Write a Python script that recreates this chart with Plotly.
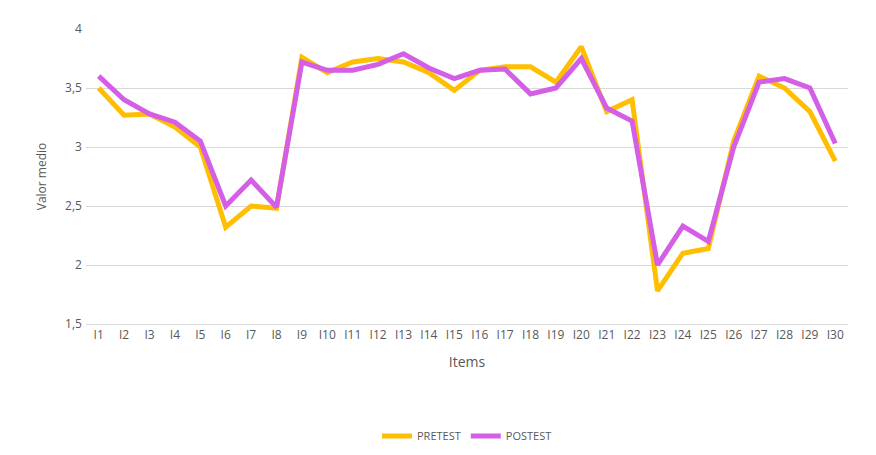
import plotly.graph_objects as go

items = [f"I{i}" for i in range(1, 31)]
pretest = [3.5, 3.27, 3.28, 3.17, 3.0, 2.32, 2.5, 2.48, 3.76, 3.63, 3.72, 3.75, 3.72, 3.63, 3.48,
           3.65, 3.68, 3.68, 3.55, 3.85, 3.3, 3.4, 1.78, 2.1, 2.14, 3.05, 3.6, 3.5, 3.3, 2.88]
postest = [3.6, 3.4, 3.28, 3.21, 3.05, 2.5, 2.72, 2.49, 3.72, 3.65, 3.65, 3.7, 3.79, 3.67, 3.58,
           3.65, 3.66, 3.45, 3.5, 3.75, 3.33, 3.22, 2.0, 2.33, 2.2, 3.0, 3.55, 3.58, 3.5, 3.03]

fig = go.Figure()
fig.add_trace(go.Scatter(x=items, y=pretest, mode="lines", name="PRETEST",
                         line=dict(color="#FFBF00", width=5)))
fig.add_trace(go.Scatter(x=items, y=postest, mode="lines", name="POSTEST",
                         line=dict(color="#D45EE6", width=5)))
fig.update_layout(
    width=876, height=455, paper_bgcolor="white", plot_bgcolor="white",
    margin=dict(l=78, r=36, t=19, b=129),
    font=dict(family="Open Sans", size=12, color="#595959"),
    xaxis=dict(title=dict(text="Items", standoff=14), showgrid=False, linecolor="#d9d9d9",
               ticks="", tickfont=dict(size=12), range=[-0.5, 29.5]),
    yaxis=dict(title=dict(text="Valor medio", font=dict(size=12)), range=[1.5, 4],
               dtick=0.5, gridcolor="#d9d9d9", zeroline=False, ticksuffix=" "),
    separators=", ",
    legend=dict(orientation="h", x=0.5, xanchor="center", y=-0.38, yanchor="middle",
                font=dict(size=11)),
)
fig.write_html("out.html")
